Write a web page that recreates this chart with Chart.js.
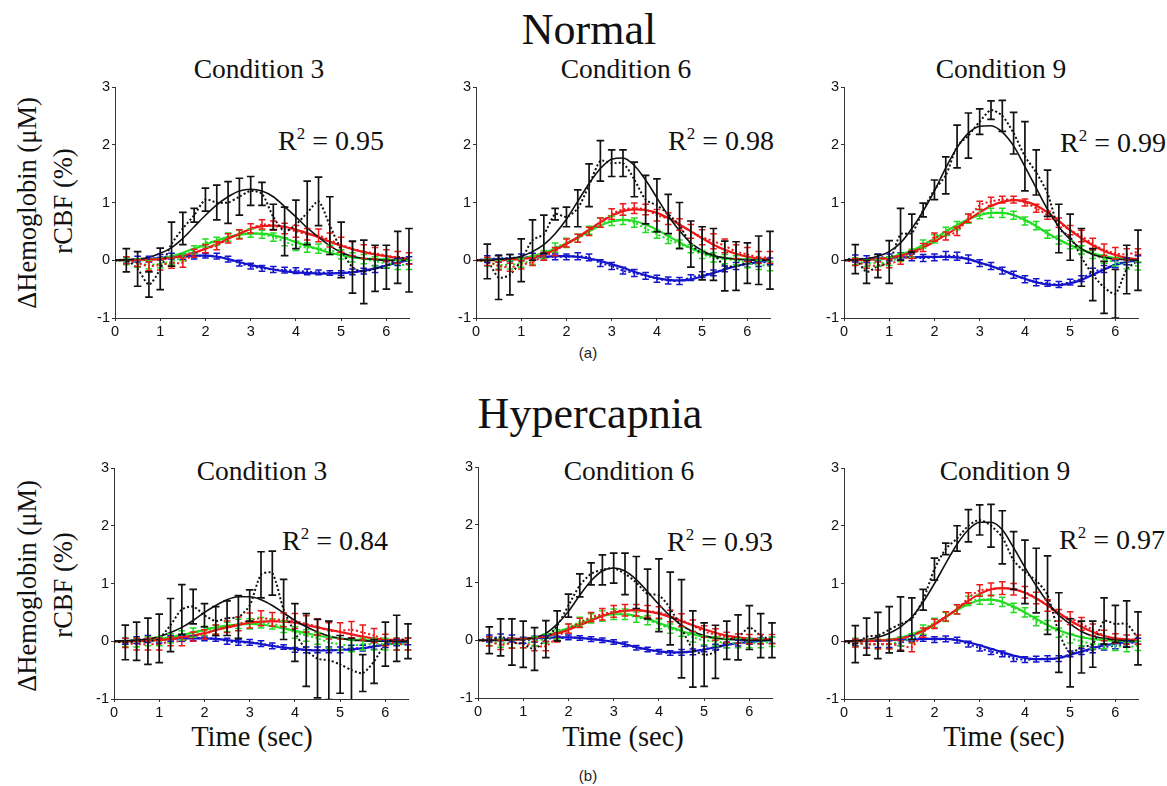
<!DOCTYPE html>
<html>
<head>
<meta charset="utf-8">
<script src="https://cdn.jsdelivr.net/npm/chart.js@4.4.1/dist/chart.umd.min.js"></script>
<style>
  html, body { margin: 0; padding: 0; background: #fff; }
  #page { position: relative; width: 1167px; height: 786px; overflow: hidden; background: #fff; }
  canvas { position: absolute; }
  .t { position: absolute; white-space: nowrap; color: #111; font-family: 'Liberation Serif', 'Times New Roman', serif; line-height: 1; }
  .big { font-size: 44px; transform: translateX(-50%); }
  .cond { font-size: 27.5px; transform: translateX(-50%); }
  .r2 { font-size: 28px; }
  .r2 .sup { font-size: 17px; position: relative; top: -11px; }
  .ylab { font-size: 26.5px; transform: translate(-50%, -50%) rotate(-90deg); }
  .xlab { font-size: 28.5px; transform: translateX(-50%); }
  .sub { font-family: 'Liberation Sans', Arial, sans-serif; font-size: 15px; transform: translate(-50%, -50%); color: #222; }
</style>
</head>
<body>
<div id="page">
  <div class="t big" style="left:589px; top:8px;">Normal</div>
  <div class="t big" style="left:590px; top:392px;">Hypercapnia</div>

  <div class="t cond" style="left:259px; top:55px;">Condition 3</div>
  <div class="t cond" style="left:626px; top:55px;">Condition 6</div>
  <div class="t cond" style="left:1001px; top:55px;">Condition 9</div>
  <div class="t cond" style="left:262px; top:457px;">Condition 3</div>
  <div class="t cond" style="left:629px; top:457px;">Condition 6</div>
  <div class="t cond" style="left:1005px; top:457px;">Condition 9</div>

  <div class="t ylab" style="left:27px; top:203px;">ΔHemoglobin (μM)</div>
  <div class="t ylab" style="left:63px; top:201px;">rCBF (%)</div>
  <div class="t ylab" style="left:27px; top:586px;">ΔHemoglobin (μM)</div>
  <div class="t ylab" style="left:63px; top:585px;">rCBF (%)</div>

  <div class="t r2" style="left:278px; top:127px;">R<span class="sup">2</span> = 0.95</div>
  <div class="t r2" style="left:668px; top:127px;">R<span class="sup">2</span> = 0.98</div>
  <div class="t r2" style="left:1060px; top:129px;">R<span class="sup">2</span> = 0.99</div>
  <div class="t r2" style="left:282px; top:527px;">R<span class="sup">2</span> = 0.84</div>
  <div class="t r2" style="left:667px; top:528px;">R<span class="sup">2</span> = 0.93</div>
  <div class="t r2" style="left:1059px; top:526px;">R<span class="sup">2</span> = 0.97</div>

  <div class="t xlab" style="left:252px; top:723px;">Time (sec)</div>
  <div class="t xlab" style="left:623px; top:723px;">Time (sec)</div>
  <div class="t xlab" style="left:1004px; top:723px;">Time (sec)</div>

  <div class="t sub" style="left:588px; top:352px;">(a)</div>
  <div class="t sub" style="left:588px; top:775px;">(b)</div>

  <canvas id="cA1"></canvas>
  <canvas id="cA2"></canvas>
  <canvas id="cA3"></canvas>
  <canvas id="cB1"></canvas>
  <canvas id="cB2"></canvas>
  <canvas id="cB3"></canvas>
</div>
<script>
// ---------- data ----------
const TIME = [0,0.25,0.5,0.75,1,1.25,1.5,1.75,2,2.25,2.5,2.75,3,3.25,3.5,3.75,4,4.25,4.5,4.75,5,5.25,5.5,5.75,6,6.25,6.5];
const X_TICKS = [0,1,2,3,4,5,6];
const Y_TICKS = [-1,0,1,2,3];

// Normal, Condition 3
const A1_BLACK_FIT  = [0,0.01,0.02,0.05,0.12,0.22,0.38,0.58,0.78,0.96,1.1,1.2,1.23,1.2,1.1,0.93,0.75,0.56,0.4,0.25,0.14,0.07,0.03,0.01,0,0,0];
const A1_BLACK_MEAN = [0,0,-0.15,-0.42,-0.15,0.28,0.55,0.78,1.05,1.0,1.0,1.1,1.2,1.15,0.75,0.5,0.62,0.82,1.02,0.6,0.18,-0.12,-0.2,-0.14,-0.12,0.05,0];
const A1_BLACK_ERR  = [0,0.2,0.3,0.22,0.36,0.38,0.28,0.12,0.2,0.3,0.36,0.32,0.25,0.2,0.22,0.42,0.42,0.55,0.42,0.5,0.48,0.45,0.55,0.4,0.38,0.45,0.55];
const A1_RED_FIT    = [0,0,0.01,0.01,0.02,0.04,0.08,0.13,0.2,0.28,0.37,0.46,0.54,0.59,0.6,0.58,0.53,0.47,0.4,0.32,0.25,0.19,0.14,0.1,0.07,0.04,0.03];
const A1_RED_MEAN   = [0,0,-0.05,-0.1,-0.08,-0.05,-0.04,0.12,0.2,0.25,0.38,0.45,0.55,0.62,0.6,0.55,0.5,0.45,0.43,0.35,0.27,0.2,0.15,0.12,0.08,0.05,0.03];
const A1_RED_ERR    = [0,0.06,0.06,0.08,0.09,0.09,0.08,0.07,0.07,0.07,0.08,0.08,0.08,0.08,0.08,0.09,0.1,0.1,0.11,0.12,0.13,0.12,0.12,0.1,0.1,0.1,0.1];
const A1_GREEN_FIT  = [0,0,0,0.01,0.03,0.07,0.13,0.2,0.27,0.34,0.4,0.44,0.46,0.46,0.43,0.38,0.31,0.25,0.19,0.13,0.09,0.05,0.03,0.02,0.01,0,0];
const A1_GREEN_MEAN = [0,-0.02,-0.05,-0.08,-0.06,-0.02,0.05,0.18,0.3,0.33,0.4,0.45,0.47,0.45,0.4,0.32,0.25,0.22,0.2,0.18,0.1,0.05,0.02,-0.02,-0.05,-0.08,-0.08];
const A1_GREEN_ERR  = [0,0.06,0.07,0.07,0.07,0.06,0.06,0.07,0.07,0.07,0.07,0.07,0.07,0.07,0.07,0.07,0.08,0.08,0.08,0.08,0.08,0.08,0.08,0.08,0.08,0.08,0.08];
const A1_BLUE_FIT   = [0,0,0.01,0.02,0.04,0.06,0.07,0.08,0.08,0.06,0.02,-0.03,-0.08,-0.12,-0.16,-0.19,-0.21,-0.22,-0.23,-0.23,-0.22,-0.21,-0.18,-0.14,-0.09,-0.04,0];
const A1_BLUE_MEAN  = [0,0,0.02,0.02,0.05,0.07,0.06,0.07,0.08,0.07,0.02,-0.05,-0.1,-0.14,-0.16,-0.17,-0.18,-0.2,-0.21,-0.22,-0.22,-0.2,-0.19,-0.15,-0.08,-0.03,0];
const A1_BLUE_ERR   = [0,0.05,0.05,0.05,0.05,0.05,0.05,0.05,0.04,0.05,0.05,0.05,0.05,0.05,0.05,0.05,0.05,0.05,0.04,0.04,0.04,0.05,0.05,0.06,0.06,0.06,0.06];

// Normal, Condition 6
const A2_BLACK_FIT  = [0,0,0.01,0.03,0.07,0.15,0.27,0.46,0.71,1.02,1.33,1.59,1.75,1.77,1.64,1.39,1.08,0.77,0.51,0.3,0.17,0.08,0.04,0.02,0.01,0,0];
const A2_BLACK_MEAN = [0,-0.02,-0.3,-0.25,0,0.35,0.45,0.8,0.75,0.9,1.3,1.72,1.68,1.68,1.4,1.05,0.95,0.8,0.6,0.28,0.12,0.1,-0.1,-0.1,-0.05,0,0];
const A2_BLACK_ERR  = [0,0.3,0.38,0.35,0.37,0.35,0.33,0.1,0.17,0.32,0.37,0.35,0.23,0.23,0.3,0.42,0.46,0.34,0.4,0.4,0.46,0.45,0.43,0.42,0.35,0.42,0.5];
const A2_RED_FIT    = [0,0,0,0.01,0.02,0.05,0.1,0.18,0.28,0.4,0.53,0.66,0.77,0.85,0.88,0.87,0.82,0.73,0.62,0.5,0.38,0.27,0.18,0.11,0.06,0.03,0.02];
const A2_RED_MEAN   = [0,-0.02,-0.1,-0.12,-0.08,-0.03,0.07,0.15,0.3,0.38,0.5,0.65,0.8,0.88,0.9,0.88,0.78,0.72,0.62,0.5,0.4,0.33,0.25,0.15,0.1,0.05,0.05];
const A2_RED_ERR    = [0,0.07,0.07,0.07,0.07,0.06,0.07,0.07,0.07,0.07,0.07,0.08,0.09,0.1,0.09,0.09,0.1,0.1,0.1,0.12,0.13,0.13,0.12,0.12,0.12,0.1,0.1];
const A2_GREEN_FIT  = [0,0,0,0.01,0.03,0.07,0.13,0.2,0.29,0.39,0.5,0.6,0.67,0.7,0.68,0.62,0.53,0.42,0.31,0.21,0.13,0.07,0.04,0.02,0.01,0,0];
const A2_GREEN_MEAN = [0,-0.03,-0.08,-0.08,-0.05,0,0.1,0.22,0.3,0.38,0.52,0.65,0.68,0.7,0.65,0.55,0.45,0.36,0.28,0.2,0.1,0.05,0.02,0,-0.05,-0.08,-0.1];
const A2_GREEN_ERR  = [0,0.07,0.07,0.07,0.07,0.07,0.07,0.08,0.08,0.07,0.07,0.08,0.08,0.08,0.08,0.07,0.07,0.07,0.07,0.07,0.07,0.08,0.08,0.08,0.08,0.08,0.08];
const A2_BLUE_FIT   = [0,0.01,0.02,0.03,0.04,0.05,0.06,0.07,0.07,0.06,0.03,-0.01,-0.07,-0.13,-0.2,-0.26,-0.31,-0.34,-0.35,-0.33,-0.28,-0.22,-0.16,-0.1,-0.06,-0.03,0];
const A2_BLUE_MEAN  = [0,0.02,0.03,0.04,0.05,0.06,0.05,0.06,0.06,0.07,0.05,-0.05,-0.1,-0.18,-0.22,-0.27,-0.32,-0.35,-0.36,-0.3,-0.25,-0.22,-0.15,-0.1,-0.06,-0.05,-0.02];
const A2_BLUE_ERR   = [0,0.06,0.06,0.06,0.06,0.06,0.05,0.05,0.05,0.06,0.06,0.06,0.06,0.06,0.06,0.06,0.06,0.06,0.06,0.05,0.05,0.05,0.05,0.06,0.06,0.06,0.06];

// Normal, Condition 9
const A3_BLACK_FIT  = [0,0.01,0.03,0.07,0.15,0.3,0.55,0.85,1.2,1.6,1.95,2.2,2.32,2.33,2.22,1.98,1.62,1.25,0.88,0.58,0.36,0.2,0.1,0.05,0.02,0.01,0];
const A3_BLACK_MEAN = [0,0.02,-0.2,-0.1,-0.03,0.45,0.47,0.87,1.22,1.47,1.97,2.16,2.4,2.6,2.5,2.2,1.8,1.52,1.16,0.55,0.4,0.05,-0.25,-0.47,-0.58,-0.16,0];
const A3_BLACK_ERR  = [0,0.25,0.2,0.2,0.37,0.45,0.33,0.12,0.17,0.32,0.37,0.39,0.22,0.16,0.27,0.36,0.6,0.39,0.4,0.42,0.4,0.5,0.45,0.45,0.42,0.42,0.52];
const A3_RED_FIT    = [0,0,0.01,0.02,0.04,0.08,0.14,0.22,0.32,0.44,0.56,0.7,0.83,0.94,1.01,1.04,1.02,0.95,0.83,0.68,0.52,0.38,0.26,0.16,0.09,0.04,0.02];
const A3_RED_MEAN   = [0,-0.03,-0.08,-0.1,-0.06,0,0.1,0.22,0.4,0.42,0.5,0.73,0.95,1.02,1.05,1.05,1.0,0.9,0.78,0.65,0.52,0.42,0.28,0.18,0.12,0.1,0.15];
const A3_RED_ERR    = [0,0.06,0.06,0.07,0.07,0.07,0.07,0.07,0.07,0.07,0.07,0.07,0.07,0.07,0.06,0.06,0.06,0.07,0.07,0.08,0.08,0.1,0.1,0.1,0.1,0.1,0.05];
const A3_GREEN_FIT  = [0,0,0.01,0.02,0.05,0.1,0.17,0.26,0.37,0.5,0.61,0.71,0.78,0.82,0.82,0.78,0.7,0.59,0.47,0.36,0.26,0.18,0.12,0.07,0.04,0.02,0.01];
const A3_GREEN_MEAN = [0,-0.02,-0.05,-0.05,-0.02,0.05,0.12,0.28,0.37,0.5,0.6,0.72,0.8,0.82,0.82,0.78,0.68,0.6,0.45,0.35,0.27,0.18,0.1,0.02,-0.03,-0.08,-0.1];
const A3_GREEN_ERR  = [0,0.06,0.06,0.06,0.07,0.07,0.07,0.07,0.07,0.07,0.07,0.08,0.08,0.08,0.08,0.07,0.07,0.07,0.07,0.07,0.07,0.07,0.07,0.07,0.07,0.07,0.07];
const A3_BLUE_FIT   = [0,0.01,0.02,0.03,0.04,0.05,0.05,0.06,0.06,0.06,0.05,0.02,-0.04,-0.1,-0.17,-0.25,-0.32,-0.38,-0.42,-0.43,-0.4,-0.34,-0.25,-0.16,-0.08,-0.03,0];
const A3_BLUE_MEAN  = [0,0.03,0.02,0.05,0.05,0.07,0.05,0.04,0.05,0.08,0.07,0.02,-0.05,-0.1,-0.18,-0.25,-0.33,-0.38,-0.4,-0.42,-0.38,-0.32,-0.2,-0.15,-0.07,-0.02,0.02];
const A3_BLUE_ERR   = [0,0.06,0.06,0.06,0.06,0.06,0.06,0.06,0.06,0.07,0.07,0.07,0.06,0.06,0.06,0.06,0.06,0.06,0.05,0.05,0.05,0.05,0.06,0.06,0.06,0.06,0.06];

// Hypercapnia, Condition 3
const B1_BLACK_FIT  = [0,0.01,0.02,0.04,0.08,0.15,0.24,0.36,0.5,0.62,0.72,0.77,0.77,0.72,0.62,0.49,0.36,0.25,0.16,0.09,0.05,0.02,0.01,0,0,0,0];
const B1_BLACK_MEAN = [0,-0.02,0,0,0.05,0.28,0.55,0.6,0.45,0.35,0.4,0.42,0.62,1.15,1.18,0.55,0.15,-0.15,-0.3,-0.33,-0.4,-0.5,-0.55,-0.35,-0.05,0.05,0];
const B1_BLACK_ERR  = [0,0.3,0.33,0.4,0.42,0.46,0.43,0.3,0.2,0.25,0.3,0.37,0.27,0.4,0.38,0.52,0.5,0.63,0.68,0.68,0.5,0.55,0.32,0.38,0.38,0.4,0.3];
const B1_RED_FIT    = [0,0,0,0.01,0.02,0.04,0.07,0.1,0.14,0.19,0.24,0.28,0.32,0.34,0.35,0.34,0.32,0.28,0.24,0.2,0.16,0.12,0.08,0.05,0.03,0.02,0.01];
const B1_RED_MEAN   = [0,-0.03,-0.05,-0.05,-0.05,0,0,0.08,0.12,0.2,0.25,0.3,0.36,0.4,0.38,0.37,0.35,0.3,0.25,0.18,0.18,0.2,0.15,0.1,0.02,-0.05,-0.05];
const B1_RED_ERR    = [0,0.08,0.1,0.1,0.1,0.08,0.08,0.08,0.08,0.08,0.1,0.12,0.13,0.13,0.12,0.12,0.13,0.14,0.14,0.14,0.14,0.14,0.13,0.12,0.1,0.1,0.1];
const B1_GREEN_FIT  = [0,0,0.01,0.02,0.04,0.07,0.11,0.15,0.2,0.24,0.27,0.29,0.3,0.29,0.26,0.22,0.18,0.14,0.1,0.07,0.05,0.03,0.02,0.01,0,0,0];
const B1_GREEN_MEAN = [0,-0.02,-0.02,0,0,0.05,0.1,0.15,0.18,0.2,0.25,0.3,0.3,0.32,0.3,0.25,0.15,0.1,0.05,-0.02,-0.05,-0.08,-0.05,-0.05,-0.05,-0.05,-0.05];
const B1_GREEN_ERR  = [0,0.07,0.08,0.08,0.08,0.08,0.08,0.08,0.08,0.08,0.08,0.08,0.09,0.09,0.09,0.1,0.1,0.1,0.1,0.1,0.1,0.1,0.1,0.1,0.1,0.1,0.1];
const B1_BLUE_FIT   = [0,0,0.01,0.02,0.03,0.04,0.05,0.05,0.05,0.04,0.02,0,-0.02,-0.05,-0.08,-0.11,-0.13,-0.15,-0.16,-0.16,-0.15,-0.14,-0.12,-0.09,-0.06,-0.03,-0.01];
const B1_BLUE_MEAN  = [0,0,0.02,0.04,0.02,0.05,0.05,0.05,0.05,0.05,0,-0.02,-0.02,-0.04,-0.08,-0.1,-0.15,-0.15,-0.15,-0.15,-0.15,-0.12,-0.12,-0.08,-0.05,-0.02,0];
const B1_BLUE_ERR   = [0,0.05,0.06,0.06,0.05,0.05,0.05,0.04,0.04,0.05,0.05,0.05,0.05,0.05,0.05,0.04,0.04,0.05,0.05,0.05,0.05,0.05,0.05,0.06,0.06,0.06,0.06];

// Hypercapnia, Condition 6
const B2_BLACK_FIT  = [0,0,0,0.01,0.02,0.05,0.12,0.28,0.5,0.78,1.03,1.2,1.25,1.2,1.05,0.84,0.62,0.42,0.26,0.15,0.08,0.04,0.02,0.01,0,0,0];
const B2_BLACK_MEAN = [0,0,0.05,-0.03,-0.07,-0.15,0.02,0.25,0.6,0.95,1.15,1.22,1.25,1.15,1.0,0.8,0.78,0.55,0.2,-0.15,-0.25,-0.2,0,0.05,0.22,0.08,0];
const B2_BLACK_ERR  = [0,0.23,0.32,0.4,0.4,0.37,0.32,0.26,0.2,0.2,0.19,0.26,0.26,0.36,0.45,0.43,0.63,0.63,0.85,0.66,0.55,0.46,0.33,0.39,0.38,0.38,0.3];
const B2_RED_FIT    = [0,0,0,0.01,0.02,0.04,0.07,0.12,0.18,0.26,0.34,0.42,0.48,0.51,0.52,0.5,0.46,0.4,0.33,0.26,0.19,0.13,0.08,0.05,0.03,0.02,0.01];
const B2_RED_MEAN   = [0,-0.02,-0.08,-0.05,-0.05,-0.1,-0.1,0.05,0.2,0.3,0.4,0.45,0.5,0.52,0.52,0.5,0.48,0.42,0.35,0.25,0.15,0.1,0.05,0.03,0.02,0.02,0.02];
const B2_RED_ERR    = [0,0.08,0.08,0.09,0.08,0.08,0.08,0.08,0.08,0.08,0.08,0.1,0.1,0.1,0.1,0.1,0.1,0.1,0.11,0.1,0.1,0.1,0.09,0.08,0.08,0.08,0.08];
const B2_GREEN_FIT  = [0,0,0,0.01,0.02,0.04,0.08,0.14,0.21,0.29,0.36,0.42,0.45,0.45,0.42,0.37,0.3,0.23,0.16,0.1,0.06,0.03,0.02,0.01,0,0,0];
const B2_GREEN_MEAN = [0,-0.02,-0.05,-0.05,-0.05,-0.02,0.03,0.1,0.2,0.32,0.38,0.42,0.45,0.45,0.4,0.35,0.28,0.2,0.15,0.05,0,-0.02,-0.05,-0.05,-0.05,-0.05,-0.03];
const B2_GREEN_ERR  = [0,0.07,0.07,0.08,0.08,0.08,0.08,0.08,0.08,0.08,0.08,0.09,0.09,0.09,0.09,0.08,0.08,0.08,0.08,0.08,0.08,0.08,0.08,0.08,0.08,0.08,0.08];
const B2_BLUE_FIT   = [0,0,0.01,0.02,0.03,0.04,0.04,0.05,0.05,0.04,0.02,0,-0.03,-0.07,-0.12,-0.16,-0.19,-0.21,-0.21,-0.19,-0.16,-0.12,-0.08,-0.05,-0.03,-0.01,0];
const B2_BLUE_MEAN  = [0,0.03,0.05,0.03,0,0.02,0.03,0.03,0.05,0.04,0.02,0,-0.03,-0.07,-0.13,-0.16,-0.2,-0.22,-0.21,-0.2,-0.15,-0.12,-0.08,-0.05,-0.02,-0.01,0];
const B2_BLUE_ERR   = [0,0.06,0.06,0.06,0.05,0.05,0.05,0.04,0.04,0.04,0.04,0.04,0.04,0.04,0.04,0.04,0.04,0.04,0.05,0.05,0.05,0.05,0.05,0.05,0.05,0.05,0.05];

// Hypercapnia, Condition 9
const B3_BLACK_FIT  = [0,0.01,0.03,0.07,0.14,0.25,0.42,0.68,1.0,1.35,1.68,1.93,2.06,2.06,1.93,1.62,1.28,0.96,0.68,0.45,0.3,0.17,0.09,0.05,0.02,0.01,0];
const B3_BLACK_MEAN = [0,-0.05,0.08,0.1,0.2,0.3,0.39,0.72,1.25,1.6,1.78,2.0,2.1,2.0,1.8,1.4,1.2,1.05,0.8,0.15,-0.2,-0.1,-0.05,0.35,0.3,0.3,0.05];
const B3_BLACK_ERR  = [0,0.32,0.32,0.4,0.4,0.47,0.36,0.18,0.19,0.1,0.22,0.28,0.26,0.37,0.46,0.5,0.55,0.56,0.68,0.69,0.59,0.45,0.4,0.4,0.32,0.4,0.46];
const B3_RED_FIT    = [0,0,0,0.01,0.02,0.05,0.1,0.18,0.29,0.42,0.56,0.7,0.82,0.9,0.92,0.9,0.84,0.74,0.62,0.49,0.36,0.25,0.16,0.09,0.05,0.03,0.02];
const B3_RED_MEAN   = [0,-0.03,-0.05,-0.05,-0.05,-0.07,-0.1,0.15,0.3,0.43,0.55,0.75,0.88,0.9,0.92,0.9,0.85,0.75,0.62,0.45,0.4,0.3,0.2,0.1,0.05,0.03,0.03];
const B3_RED_ERR    = [0,0.07,0.07,0.08,0.08,0.08,0.08,0.08,0.08,0.08,0.08,0.09,0.1,0.11,0.11,0.1,0.1,0.1,0.1,0.1,0.11,0.11,0.1,0.09,0.08,0.08,0.08];
const B3_GREEN_FIT  = [0,0,0.01,0.01,0.03,0.06,0.12,0.2,0.3,0.42,0.54,0.64,0.71,0.72,0.68,0.6,0.5,0.39,0.28,0.19,0.12,0.07,0.04,0.02,0.01,0,0];
const B3_GREEN_MEAN = [0,-0.02,-0.05,-0.05,-0.05,0,0.05,0.2,0.32,0.42,0.55,0.7,0.72,0.72,0.68,0.58,0.5,0.35,0.28,0.15,0.05,0,-0.05,-0.05,-0.08,-0.1,-0.08];
const B3_GREEN_ERR  = [0,0.07,0.07,0.08,0.08,0.08,0.08,0.08,0.08,0.08,0.08,0.08,0.08,0.08,0.08,0.08,0.08,0.08,0.08,0.08,0.08,0.08,0.08,0.08,0.08,0.08,0.08];
const B3_BLUE_FIT   = [0,0,0.01,0.01,0.02,0.03,0.03,0.04,0.04,0.04,0.02,-0.02,-0.07,-0.13,-0.19,-0.25,-0.29,-0.31,-0.31,-0.29,-0.24,-0.18,-0.12,-0.07,-0.04,-0.02,0];
const B3_BLUE_MEAN  = [0,-0.02,-0.05,-0.05,-0.05,-0.03,0.05,0.05,0.03,0.04,0.02,-0.05,-0.12,-0.18,-0.22,-0.3,-0.32,-0.31,-0.3,-0.3,-0.22,-0.18,-0.15,-0.1,-0.08,-0.05,0];
const B3_BLUE_ERR   = [0,0.06,0.06,0.06,0.06,0.05,0.05,0.05,0.05,0.05,0.05,0.05,0.05,0.05,0.05,0.05,0.05,0.05,0.05,0.05,0.05,0.05,0.05,0.05,0.05,0.05,0.05];

// ---------- styles ----------
const BLACK = '#111111', RED = '#ee1818', GREEN = '#22dd22', BLUE = '#1414cc';
const PLOT_W = 294, PLOT_H = 231, Y_W = 40, X_H = 25, PAD_T = 15, PAD_R = 12;

const errorBarPlugin = {
  id: 'errorBars',
  afterDatasetsDraw(chart) {
    const ctx = chart.ctx, xs = chart.scales.x, ys = chart.scales.y, ca = chart.chartArea;
    ctx.save();
    ctx.beginPath();
    ctx.rect(ca.left - 8, ca.top - 12, ca.right - ca.left + 16, ca.bottom - ca.top + 12);
    ctx.clip();
    const ds = chart.data.datasets;
    for (let k = ds.length - 1; k >= 0; k--) {
      const d = ds[k];
      if (!d.errors) continue;
      ctx.strokeStyle = d.borderColor;
      ctx.lineWidth = d.barWidth;
      const cap = d.capHalf;
      d.data.forEach((p, i) => {
        const e = d.errors[i];
        if (!e) return;
        const x = xs.getPixelForValue(p.x);
        const y1 = ys.getPixelForValue(p.y - e);
        const y2 = ys.getPixelForValue(p.y + e);
        ctx.beginPath();
        ctx.moveTo(x, y1); ctx.lineTo(x, y2);
        ctx.moveTo(x - cap, y1); ctx.lineTo(x + cap, y1);
        ctx.moveTo(x - cap, y2); ctx.lineTo(x + cap, y2);
        ctx.stroke();
      });
    }
    ctx.restore();
  }
};

function pts(arr) { return TIME.map((t, i) => ({ x: t, y: arr[i] })); }

function buildPanel(id, left, top, list) {
  const cv = document.getElementById(id);
  const w = PLOT_W + Y_W + PAD_R, h = PLOT_H + PAD_T + X_H;
  cv.width = w; cv.height = h;
  cv.style.width = w + 'px'; cv.style.height = h + 'px';
  cv.style.left = (left - Y_W) + 'px'; cv.style.top = (top - PAD_T) + 'px';
  const clip = { left: 8, right: 8, top: 12, bottom: 0 };
  const datasets = [];
  list.forEach(s => {
    const isBlack = s.color === BLACK;
    datasets.push({
      data: pts(s.fit), borderColor: s.color, borderWidth: isBlack ? 1.6 : 2.2,
      pointRadius: 0, cubicInterpolationMode: 'monotone', fill: false, clip
    });
    datasets.push({
      data: pts(s.mean), borderColor: s.color, borderWidth: 2, borderDash: [2, 2.2],
      pointRadius: 0, tension: 0.25, fill: false, clip,
      errors: s.err, barWidth: isBlack ? 1.7 : 1.5, capHalf: isBlack ? 3.8 : 3.3
    });
  });
  const tickFont = { family: "'Liberation Sans', Arial, sans-serif", size: 14.5 };
  new Chart(cv, {
    type: 'line',
    data: { datasets },
    plugins: [errorBarPlugin],
    options: {
      responsive: false, animation: false, events: [],
      layout: { padding: { top: PAD_T, right: PAD_R, left: 0, bottom: 0 } },
      plugins: { legend: { display: false }, tooltip: { enabled: false }, title: { display: false } },
      scales: {
        x: {
          type: 'linear', min: 0, max: 6.5,
          afterBuildTicks: sc => { sc.ticks = X_TICKS.map(v => ({ value: v })); },
          afterFit: sc => { sc.height = X_H; },
          grid: { display: true, drawOnChartArea: false, drawTicks: true, tickLength: 3, color: '#333' },
          border: { display: true, color: '#333', width: 1 },
          ticks: { font: tickFont, color: '#111', padding: 2, maxRotation: 0, autoSkip: false }
        },
        y: {
          type: 'linear', min: -1, max: 3,
          afterBuildTicks: sc => { sc.ticks = Y_TICKS.map(v => ({ value: v })); },
          afterFit: sc => { sc.width = Y_W; },
          grid: { display: true, drawOnChartArea: false, drawTicks: true, tickLength: 3, color: '#333' },
          border: { display: true, color: '#333', width: 1 },
          ticks: { font: tickFont, color: '#111', padding: 2, autoSkip: false }
        }
      }
    }
  });
}

function S(fit, mean, err, color) { return { fit, mean, err, color }; }

buildPanel('cA1', 115, 87, [
  S(A1_BLACK_FIT, A1_BLACK_MEAN, A1_BLACK_ERR, BLACK),
  S(A1_RED_FIT, A1_RED_MEAN, A1_RED_ERR, RED),
  S(A1_GREEN_FIT, A1_GREEN_MEAN, A1_GREEN_ERR, GREEN),
  S(A1_BLUE_FIT, A1_BLUE_MEAN, A1_BLUE_ERR, BLUE)
]);
buildPanel('cA2', 476, 87, [
  S(A2_BLACK_FIT, A2_BLACK_MEAN, A2_BLACK_ERR, BLACK),
  S(A2_RED_FIT, A2_RED_MEAN, A2_RED_ERR, RED),
  S(A2_GREEN_FIT, A2_GREEN_MEAN, A2_GREEN_ERR, GREEN),
  S(A2_BLUE_FIT, A2_BLUE_MEAN, A2_BLUE_ERR, BLUE)
]);
buildPanel('cA3', 844, 87, [
  S(A3_BLACK_FIT, A3_BLACK_MEAN, A3_BLACK_ERR, BLACK),
  S(A3_RED_FIT, A3_RED_MEAN, A3_RED_ERR, RED),
  S(A3_GREEN_FIT, A3_GREEN_MEAN, A3_GREEN_ERR, GREEN),
  S(A3_BLUE_FIT, A3_BLUE_MEAN, A3_BLUE_ERR, BLUE)
]);
buildPanel('cB1', 114, 468, [
  S(B1_BLACK_FIT, B1_BLACK_MEAN, B1_BLACK_ERR, BLACK),
  S(B1_RED_FIT, B1_RED_MEAN, B1_RED_ERR, RED),
  S(B1_GREEN_FIT, B1_GREEN_MEAN, B1_GREEN_ERR, GREEN),
  S(B1_BLUE_FIT, B1_BLUE_MEAN, B1_BLUE_ERR, BLUE)
]);
buildPanel('cB2', 478, 467, [
  S(B2_BLACK_FIT, B2_BLACK_MEAN, B2_BLACK_ERR, BLACK),
  S(B2_RED_FIT, B2_RED_MEAN, B2_RED_ERR, RED),
  S(B2_GREEN_FIT, B2_GREEN_MEAN, B2_GREEN_ERR, GREEN),
  S(B2_BLUE_FIT, B2_BLUE_MEAN, B2_BLUE_ERR, BLUE)
]);
buildPanel('cB3', 844, 468, [
  S(B3_BLACK_FIT, B3_BLACK_MEAN, B3_BLACK_ERR, BLACK),
  S(B3_RED_FIT, B3_RED_MEAN, B3_RED_ERR, RED),
  S(B3_GREEN_FIT, B3_GREEN_MEAN, B3_GREEN_ERR, GREEN),
  S(B3_BLUE_FIT, B3_BLUE_MEAN, B3_BLUE_ERR, BLUE)
]);
</script>
</body>
</html>
